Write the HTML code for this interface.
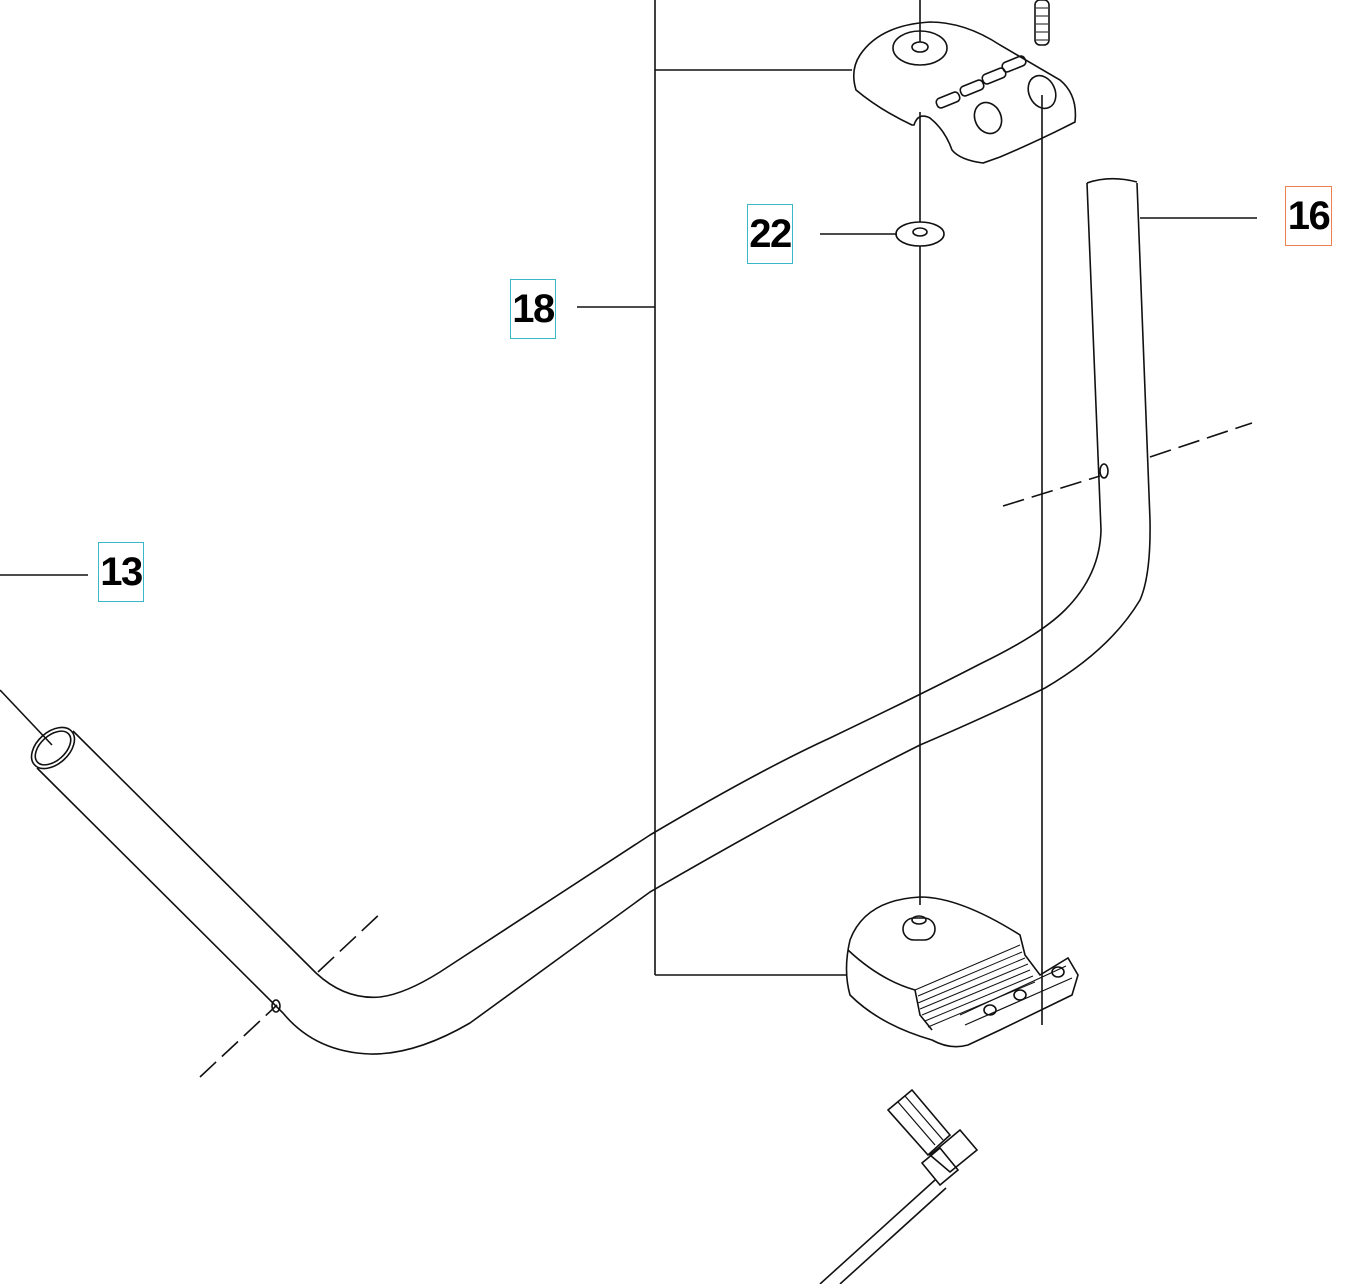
<!DOCTYPE html>
<html><head><style>
html,body{margin:0;padding:0;background:#fff;}
.lb{position:absolute;font-family:"Liberation Sans",sans-serif;font-weight:bold;font-size:40px;line-height:58px;text-align:center;width:46px;height:60px;border:1.5px solid #3bb8c8;box-sizing:border-box;letter-spacing:-1.5px;}
</style></head><body>
<div style="position:relative;width:1360px;height:1284px;overflow:hidden;">
<svg width="1360" height="1284" style="position:absolute;left:0;top:0" fill="none" stroke="#111" stroke-width="1.6">
<line x1="0" y1="575" x2="88" y2="575"/>
<line x1="577" y1="307" x2="655" y2="307"/>
<line x1="655" y1="0" x2="655" y2="975"/>
<line x1="655" y1="70" x2="852" y2="70"/>
<line x1="655" y1="975" x2="846" y2="975"/>
<line x1="820" y1="234" x2="897" y2="234"/>
<line x1="1140" y1="218" x2="1257" y2="218"/>
<line x1="920" y1="0" x2="920" y2="42"/>
<line x1="920" y1="112" x2="920" y2="222"/>
<line x1="920" y1="246" x2="920" y2="905"/>
<line x1="1042" y1="95" x2="1042" y2="1025"/>
<line x1="0" y1="690" x2="52" y2="745"/>
<rect x="1035" y="0" width="14" height="45" rx="5"/>
<path d="M1036 8h12M1036 16h12M1036 24h12M1036 32h12M1036 40h12" stroke-width="1"/>
<path d="M1003 506 L1100 476 M1150 457 L1252 423 M318 972 L383 911 M200 1077 L277 1005" stroke-dasharray="22 8"/>
<path d="M73 731 L316 973 Q345 1000 380 997 Q405 994 440 972 L650 835 Q760 770 830 738 Q920 695 980 664 Q1040 635 1065 610 Q1100 575 1101 530 L1087 183"/>
<path d="M37 768 L283 1013 Q315 1052 370 1054 Q415 1055 470 1023 L650 892 Q800 805 920 745 Q990 715 1045 688 Q1110 650 1140 600 Q1151 575 1150 520 L1137 183"/>
<path d="M1087 183 Q1110 175 1137 182"/>
<ellipse cx="53" cy="748" rx="25" ry="16" transform="rotate(-42 53 748)"/>
<ellipse cx="53" cy="748" rx="21" ry="12.5" transform="rotate(-42 53 748)"/>
<ellipse cx="276" cy="1006" rx="4" ry="6"/>
<ellipse cx="1104" cy="471" rx="4" ry="7"/>
<ellipse cx="920" cy="234" rx="24" ry="12"/>
<ellipse cx="920" cy="232" rx="7" ry="4"/>
<path d="M860 55 Q880 25 930 22 Q965 22 1000 45 L1060 80 Q1078 95 1075 122 Q1040 140 1000 157 L983 163 Q960 160 952 150 Q945 130 930 118 Q918 112 914 125 L912 125 Q880 110 856 90 Q850 70 860 55Z"/>
<ellipse cx="920" cy="48" rx="27" ry="17"/>
<ellipse cx="920" cy="47" rx="8" ry="5"/>
<rect x="936" y="95" width="24" height="10" rx="4" transform="rotate(-22 948 100)"/>
<rect x="960" y="83" width="24" height="10" rx="4" transform="rotate(-22 972 88)"/>
<rect x="982" y="71" width="24" height="10" rx="4" transform="rotate(-22 994 76)"/>
<rect x="1002" y="59" width="24" height="10" rx="4" transform="rotate(-22 1014 64)"/>
<ellipse cx="1042" cy="92" rx="13" ry="17" transform="rotate(-25 1042 92)"/>
<ellipse cx="988" cy="118" rx="13" ry="16" transform="rotate(-25 988 118)"/>
<path d="M850 940 Q865 900 920 897 Q960 897 1020 935 L1025 955 L1040 975 L1068 958 L1078 975 L1072 995 L1000 1030 L968 1045 Q950 1050 932 1040 Q880 1025 850 995 Q843 970 850 940Z"/>
<path d="M848 950 Q880 980 915 990 L920 1015 L932 1030"/>
<path d="M915 990 L1020 945 M918 996 L1022 952 M918 1003 L1025 958 M920 1009 L1028 964 M922 1015 L1030 970 M925 1021 L1033 976 M928 1027 L1035 982" stroke-width="1"/>
<path d="M960 1015 L1066 966 M965 1025 L1072 978" stroke-width="1.2"/>
<ellipse cx="990" cy="1010" rx="6" ry="5"/><ellipse cx="1020" cy="995" rx="6" ry="5"/><ellipse cx="1058" cy="972" rx="6" ry="5"/>
<rect x="903" y="918" width="32" height="22" rx="11"/>
<ellipse cx="919" cy="920" rx="7" ry="4"/>
<path d="M888 1110 L912 1090 L950 1135 L928 1155Z"/>
<path d="M898 1102 L935 1145 M905 1096 L943 1140" stroke-width="1.2"/>
<path d="M930 1155 L960 1130 L977 1150 L950 1172Z"/>
<path d="M922 1163 L940 1148 L958 1170 L940 1185Z"/>
<path d="M935 1180 L820 1284 M946 1188 L840 1284"/>
</svg>
<div class="lb" style="left:98px;top:542px;">13</div>
<div class="lb" style="left:510px;top:279px;">18</div>
<div class="lb" style="left:747px;top:204px;">22</div>
<div class="lb" style="left:1285px;top:186px;width:47px;border-color:#f08050;">16</div>
</div>
</body></html>
